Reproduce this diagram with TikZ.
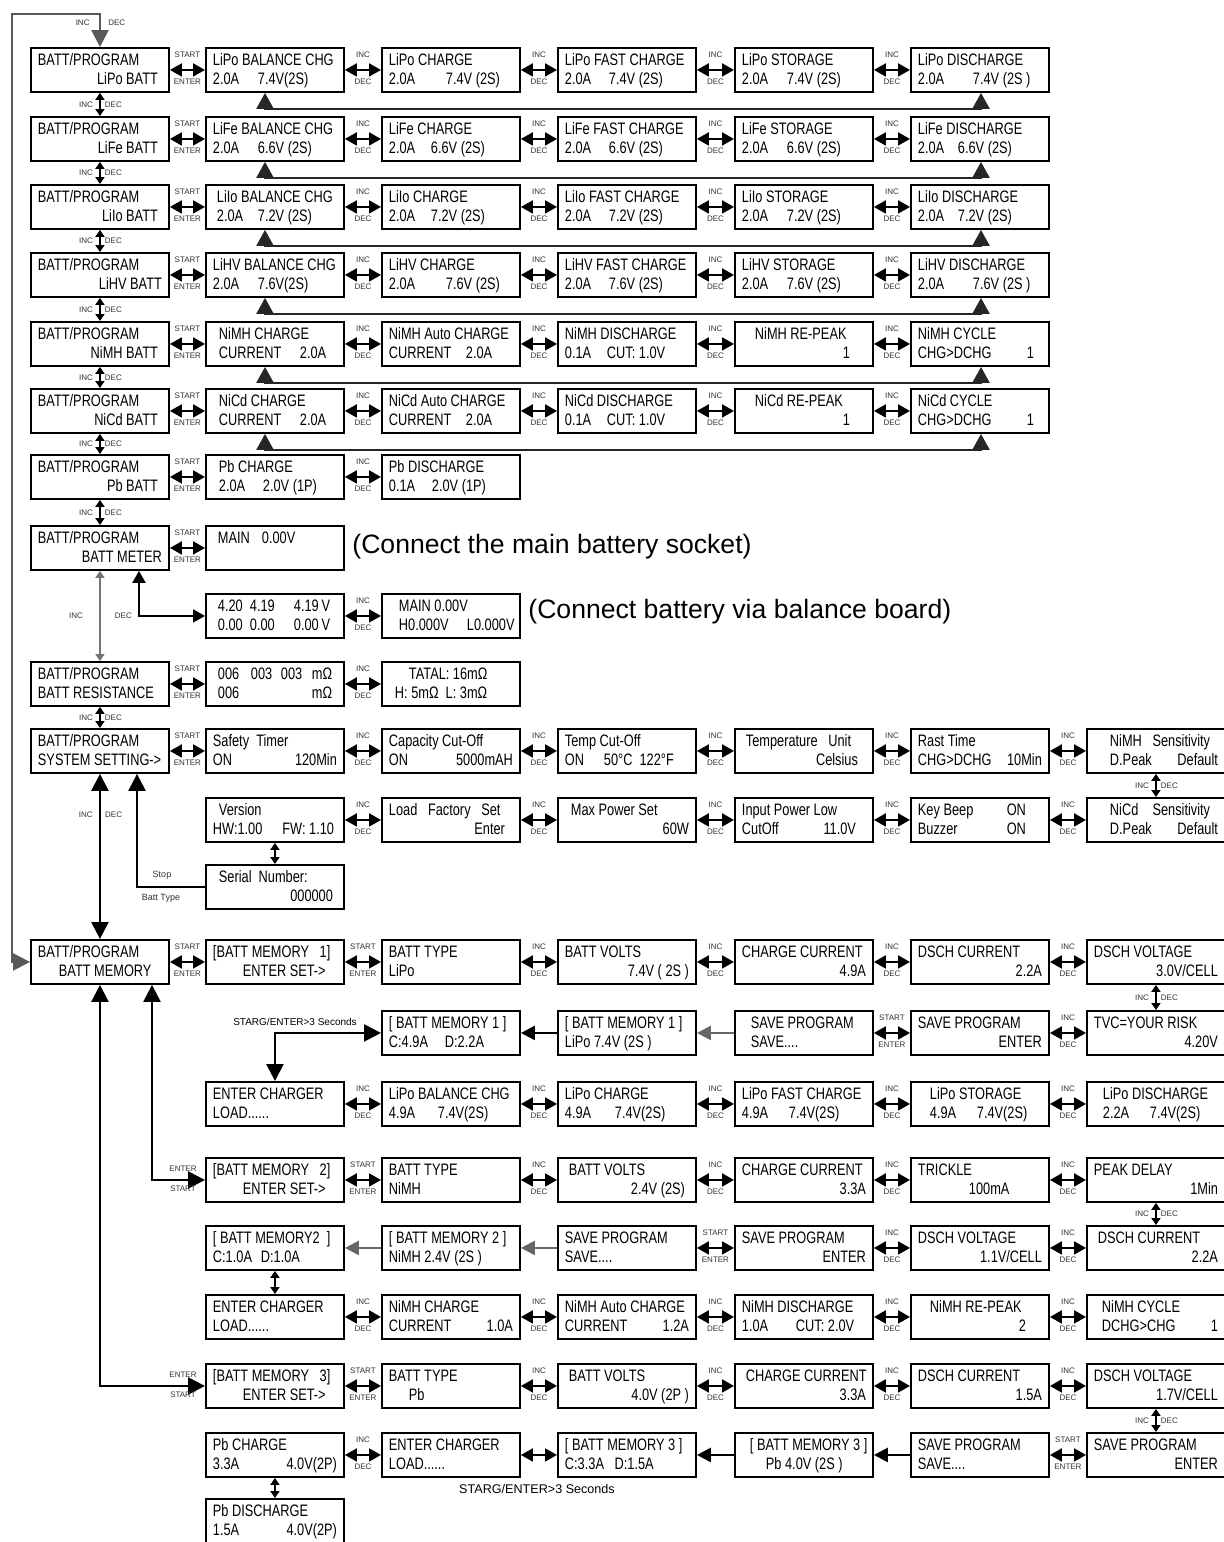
\documentclass[tikz,border=0pt]{standalone}
\usepackage{fontspec}
\setmainfont{Liberation Sans}
\newfontfamily\lcdfamily{Liberation Sans}[FakeStretch=0.77]
\usetikzlibrary{arrows.meta}
% two-line display, a line may use \hfill
\newcommand{\lcdtext}[2]{\vbox{\hsize=62pt\baselineskip=9.5pt\lineskiplimit=-20pt
  \hbox to\hsize{\vrule height6.5pt depth0pt width0pt#1\hss}
  \hbox to\hsize{\vrule height0pt depth1.5pt width0pt#2\hss}}}
\newcommand{\fw}[2]{\makebox[#1pt][l]{#2}}
\newcommand{\ud}[2]{\draw[dbl] (#1.east) -- node[tu]{INC} node[td]{DEC} (#2.west);}
\newcommand{\se}[2]{\draw[dbl] (#1.east) -- node[tu]{START} node[td]{ENTER} (#2.west);}
\newcommand{\vud}[2]{\draw[vdbl] (#1.south) -- node[tl]{INC} node[tr]{DEC} (#2.north);}
\newcommand{\fb}[2]{\draw[fb] ([xshift=30pt]#1.south west) -- ++(0,16) -| ([xshift=35.5pt]#2.south west);}

\begin{document}
\begin{tikzpicture}[x=0.5pt,y=-0.5pt,
  lcd/.style={draw,line width=0.95pt,minimum width=69pt,minimum height=22pt,inner sep=0pt,anchor=north west,font=\lcdfamily\fontsize{8.3}{9.5}\selectfont},
  tag/.style={font=\fontsize{4}{4.5}\selectfont,inner sep=0pt,text=black!80},
  tu/.style={tag,above=5.5pt},
  td/.style={tag,below=4pt},
  tl/.style={tag,left=3pt},
  tr/.style={tag,right=2pt},
  dbl/.style={{Triangle[length=6pt,width=6.5pt]}-{Triangle[length=6pt,width=6.5pt]},line width=1pt},
  vdbl/.style={{Triangle[length=3.5pt,width=4.5pt]}-{Triangle[length=3.5pt,width=4.5pt]},line width=1pt},
  bigdbl/.style={{Triangle[length=8.5pt,width=8.5pt]}-{Triangle[length=8.5pt,width=8.5pt]},line width=1.2pt},
  big/.style={-{Triangle[length=8.5pt,width=8.5pt]},line width=1.2pt},
  lft/.style={-{Triangle[length=7pt,width=7pt]},line width=1.2pt},
  fb/.style={{Triangle[length=8pt,width=8.5pt]}-{Triangle[length=8pt,width=8.5pt]},line width=1.2pt,black!85},
  hint/.style={font=\fontsize{13.3}{15}\selectfont,anchor=west,inner sep=0pt}]
\fill[white] (0,0) rectangle (1224,1542);
\useasboundingbox (0,0) rectangle (1224,1542);

% lithium rows
\node[lcd] (lipo) at (30,47) {\lcdtext{BATT/PROGRAM}{\hfill LiPo BATT\hspace{2pt}}};
\node[lcd] (lipobal) at (205,47) {\lcdtext{LiPo BALANCE CHG}{\fw{22.5}{2.0A}7.4V(2S)}};
\node[lcd] (lipochg) at (381,47) {\lcdtext{LiPo CHARGE}{\fw{28.5}{2.0A}7.4V (2S)}};
\node[lcd] (lipofast) at (557,47) {\lcdtext{LiPo FAST CHARGE}{\fw{22}{2.0A}7.4V (2S)}};
\node[lcd] (liposto) at (734,47) {\lcdtext{LiPo STORAGE}{\fw{22.5}{2.0A}7.4V (2S)}};
\node[lcd] (lipodis) at (910,47) {\lcdtext{LiPo DISCHARGE}{\fw{27.5}{2.0A}7.4V (2S )}};

\node[lcd] (life) at (30,116) {\lcdtext{BATT/PROGRAM}{\hfill LiFe BATT\hspace{2pt}}};
\node[lcd] (lifebal) at (205,116) {\lcdtext{LiFe BALANCE CHG}{\fw{22.5}{2.0A}6.6V (2S)}};
\node[lcd] (lifechg) at (381,116) {\lcdtext{LiFe CHARGE}{\fw{21}{2.0A}6.6V (2S)}};
\node[lcd] (lifefast) at (557,116) {\lcdtext{LiFe FAST CHARGE}{\fw{22}{2.0A}6.6V (2S)}};
\node[lcd] (lifesto) at (734,116) {\lcdtext{LiFe STORAGE}{\fw{22.5}{2.0A}6.6V (2S)}};
\node[lcd] (lifedis) at (910,116) {\lcdtext{LiFe DISCHARGE}{\fw{20}{2.0A}6.6V (2S)}};

\node[lcd] (liio) at (30,184) {\lcdtext{BATT/PROGRAM}{\hfill LiIo BATT\hspace{2pt}}};
\node[lcd] (liiobal) at (205,184) {\lcdtext{\hspace{2pt}LiIo BALANCE CHG}{\hspace{2pt}\fw{20.5}{2.0A}7.2V (2S)}};
\node[lcd] (liiochg) at (381,184) {\lcdtext{LiIo CHARGE}{\fw{21}{2.0A}7.2V (2S)}};
\node[lcd] (liiofast) at (557,184) {\lcdtext{LiIo FAST CHARGE}{\fw{22}{2.0A}7.2V (2S)}};
\node[lcd] (liiosto) at (734,184) {\lcdtext{LiIo STORAGE}{\fw{22.5}{2.0A}7.2V (2S)}};
\node[lcd] (liiodis) at (910,184) {\lcdtext{LiIo DISCHARGE}{\fw{20}{2.0A}7.2V (2S)}};

\node[lcd] (lihv) at (30,252) {\lcdtext{BATT/PROGRAM}{\hfill LiHV BATT}};
\node[lcd] (lihvbal) at (205,252) {\lcdtext{LiHV BALANCE CHG}{\fw{22.5}{2.0A}7.6V(2S)}};
\node[lcd] (lihvchg) at (381,252) {\lcdtext{LiHV CHARGE}{\fw{28.5}{2.0A}7.6V (2S)}};
\node[lcd] (lihvfast) at (557,252) {\lcdtext{LiHV FAST CHARGE}{\fw{22}{2.0A}7.6V (2S)}};
\node[lcd] (lihvsto) at (734,252) {\lcdtext{LiHV STORAGE}{\fw{22.5}{2.0A}7.6V (2S)}};
\node[lcd] (lihvdis) at (910,252) {\lcdtext{LiHV DISCHARGE}{\fw{27.5}{2.0A}7.6V (2S )}};

% nickel and lead rows
\node[lcd] (nimh) at (30,321) {\lcdtext{BATT/PROGRAM}{\hfill NiMH BATT\hspace{2pt}}};
\node[lcd] (nimhchg) at (205,321) {\lcdtext{\hspace{3pt}NiMH CHARGE}{\hspace{3pt}\fw{40.5}{CURRENT}2.0A}};
\node[lcd] (nimhauto) at (381,321) {\lcdtext{NiMH Auto CHARGE}{\fw{38.5}{CURRENT}2.0A}};
\node[lcd] (nimhdis) at (557,321) {\lcdtext{NiMH DISCHARGE}{\fw{21}{0.1A}CUT: 1.0V}};
\node[lcd] (nimhpeak) at (734,321) {\lcdtext{\hspace{6.5pt}NiMH RE-PEAK}{\hfill 1\hspace{8pt}}};
\node[lcd] (nimhcyc) at (910,321) {\lcdtext{NiMH CYCLE}{CHG>DCHG\hfill 1\hspace{4pt}}};

\node[lcd] (nicd) at (30,388) {\lcdtext{BATT/PROGRAM}{\hfill NiCd BATT\hspace{2pt}}};
\node[lcd] (nicdchg) at (205,388) {\lcdtext{\hspace{3pt}NiCd CHARGE}{\hspace{3pt}\fw{40.5}{CURRENT}2.0A}};
\node[lcd] (nicdauto) at (381,388) {\lcdtext{NiCd Auto CHARGE}{\fw{38.5}{CURRENT}2.0A}};
\node[lcd] (nicddis) at (557,388) {\lcdtext{NiCd DISCHARGE}{\fw{21}{0.1A}CUT: 1.0V}};
\node[lcd] (nicdpeak) at (734,388) {\lcdtext{\hspace{6.5pt}NiCd RE-PEAK}{\hfill 1\hspace{8pt}}};
\node[lcd] (nicdcyc) at (910,388) {\lcdtext{NiCd CYCLE}{CHG>DCHG\hfill 1\hspace{4pt}}};

\node[lcd] (pb) at (30,454) {\lcdtext{BATT/PROGRAM}{\hfill Pb BATT\hspace{2pt}}};
\node[lcd] (pbchg) at (205,454) {\lcdtext{\hspace{3pt}Pb CHARGE}{\hspace{3pt}\fw{22}{2.0A}2.0V (1P)}};
\node[lcd] (pbdis) at (381,454) {\lcdtext{Pb DISCHARGE}{\fw{21.5}{0.1A}2.0V (1P)}};

% meter and resistance
\node[lcd] (meter) at (30,525) {\lcdtext{BATT/PROGRAM}{\hfill BATT METER}};
\node[lcd] (metermain) at (205,525) {\lcdtext{\hspace{2.5pt}MAIN\hspace{6pt}0.00V}{}};
\node[lcd] (cells) at (205,593) {\lcdtext{\hspace{2.5pt}\fw{16}{4.20}\fw{22}{4.19}4.19\,V}{\hspace{2.5pt}\fw{16}{0.00}\fw{22}{0.00}0.00\,V}};
\node[lcd] (mainhl) at (381,593) {\lcdtext{\hspace{5pt}MAIN 0.00V}{\hspace{5pt}\fw{34}{H0.000V}L0.000V}};
\node[hint] (socket) at (352,547) {(Connect the main battery socket)};
\node[hint] (balance) at (528,612) {(Connect battery via balance board)};

\node[lcd] (resist) at (30,661) {\lcdtext{BATT/PROGRAM}{BATT RESISTANCE}};
\node[lcd] (resall) at (205,661) {\lcdtext{\hspace{2.5pt}\fw{16.5}{006}\fw{15}{003}\fw{15.5}{003}mΩ}{\hspace{2.5pt}\fw{47}{006}mΩ}};
\node[lcd] (restotal) at (381,661) {\lcdtext{\hspace{10pt}TATAL:\ 16mΩ}{\hspace{3pt}H:\ 5mΩ\ \ L:\ 3mΩ}};

% system settings
\node[lcd] (sysset) at (30,728) {\lcdtext{BATT/PROGRAM}{SYSTEM SETTING->}};
\node[lcd] (safety) at (205,728) {\lcdtext{Safety\ \ Timer}{ON\hfill 120Min}};
\node[lcd] (capcut) at (381,728) {\lcdtext{Capacity Cut-Off}{ON\hfill 5000mAH}};
\node[lcd] (tempcut) at (557,728) {\lcdtext{Temp Cut-Off}{\fw{19.5}{ON}50°C\ \ 122°F}};
\node[lcd] (tempunit) at (734,728) {\lcdtext{\hspace{2pt}Temperature\ \ \ Unit}{\hfill Celsius\hspace{4pt}}};
\node[lcd] (resttime) at (910,728) {\lcdtext{Rast Time}{CHG>DCHG\hfill 10Min}};
\node[lcd] (nimhsens) at (1086,728) {\lcdtext{\hspace{8pt}NiMH\ \ \ Sensitivity}{\hspace{8pt}D.Peak\hfill Default}};

\node[lcd] (version) at (205,797) {\lcdtext{\hspace{3pt}Version}{HW:1.00\hspace{10pt}FW: 1.10}};
\node[lcd] (factory) at (381,797) {\lcdtext{Load\ \ \ Factory\ \ \ Set}{\hfill Enter\hspace{4pt}}};
\node[lcd] (maxpower) at (557,797) {\lcdtext{\hspace{3pt}Max Power Set}{\hfill 60W}};
\node[lcd] (inputlow) at (734,797) {\lcdtext{Input Power Low}{CutOff\hfill 11.0V\hspace{5pt}}};
\node[lcd] (keybeep) at (910,797) {\lcdtext{Key Beep\hfill ON\hspace{8pt}}{Buzzer\hfill ON\hspace{8pt}}};
\node[lcd] (nicdsens) at (1086,797) {\lcdtext{\hspace{8pt}NiCd\ \ \ \ Sensitivity}{\hspace{8pt}D.Peak\hfill Default}};
\node[lcd] (serial) at (205,864) {\lcdtext{\hspace{3pt}Serial\ \ Number:}{\hfill 000000\hspace{2pt}}};

% batt memory
\node[lcd] (battmem) at (30,939) {\lcdtext{BATT/PROGRAM}{\hspace{10.5pt}BATT MEMORY}};
\node[lcd] (memone) at (205,939) {\lcdtext{[BATT MEMORY\ \ \ 1]}{\hspace{15pt}ENTER SET->}};
\node[lcd] (typeone) at (381,939) {\lcdtext{BATT TYPE}{LiPo}};
\node[lcd] (voltsone) at (557,939) {\lcdtext{BATT VOLTS}{\hfill 7.4V ( 2S )}};
\node[lcd] (chgone) at (734,939) {\lcdtext{CHARGE CURRENT}{\hfill 4.9A}};
\node[lcd] (dschone) at (910,939) {\lcdtext{DSCH CURRENT}{\hfill 2.2A}};
\node[lcd] (dvone) at (1086,939) {\lcdtext{DSCH VOLTAGE}{\hfill 3.0V/CELL}};

\node[lcd] (memonec) at (381,1010) {\lcdtext{[ BATT MEMORY 1 ]}{\fw{28}{C:4.9A}D:2.2A}};
\node[lcd] (memonel) at (557,1010) {\lcdtext{[ BATT MEMORY 1 ]}{LiPo 7.4V (2S )}};
\node[lcd] (saveone) at (734,1010) {\lcdtext{\hspace{4.5pt}SAVE PROGRAM}{\hspace{4.5pt}SAVE....}};
\node[lcd] (saveentone) at (910,1010) {\lcdtext{SAVE PROGRAM}{\hfill ENTER}};
\node[lcd] (tvc) at (1086,1010) {\lcdtext{TVC=YOUR RISK}{\hfill 4.20V}};
\node[font=\fontsize{5}{6}\selectfont,inner sep=0pt] (holdone) at (295,1022) {STARG/ENTER>3 Seconds};

\node[lcd] (loadone) at (205,1081) {\lcdtext{ENTER CHARGER}{LOAD......}};
\node[lcd] (lbal) at (381,1081) {\lcdtext{LiPo BALANCE CHG}{\fw{24.5}{4.9A}7.4V(2S)}};
\node[lcd] (lchg) at (557,1081) {\lcdtext{LiPo CHARGE}{\fw{25}{4.9A}7.4V(2S)}};
\node[lcd] (lfast) at (734,1081) {\lcdtext{LiPo FAST CHARGE}{\fw{23.5}{4.9A}7.4V(2S)}};
\node[lcd] (lsto) at (910,1081) {\lcdtext{\hspace{6pt}LiPo STORAGE}{\hspace{6pt}\fw{23.5}{4.9A}7.4V(2S)}};
\node[lcd] (ldis) at (1086,1081) {\lcdtext{\hspace{4.5pt}LiPo DISCHARGE}{\hspace{4.5pt}\fw{23.5}{2.2A}7.4V(2S)}};

\node[lcd] (memtwo) at (205,1157) {\lcdtext{[BATT MEMORY\ \ \ 2]}{\hspace{15pt}ENTER SET->}};
\node[lcd] (typetwo) at (381,1157) {\lcdtext{BATT TYPE}{NiMH}};
\node[lcd] (voltstwo) at (557,1157) {\lcdtext{\hspace{2pt}BATT VOLTS}{\hfill 2.4V (2S)\hspace{2pt}}};
\node[lcd] (chgtwo) at (734,1157) {\lcdtext{CHARGE CURRENT}{\hfill 3.3A}};
\node[lcd] (trickle) at (910,1157) {\lcdtext{TRICKLE}{\hspace{25.5pt}100mA}};
\node[lcd] (peak) at (1086,1157) {\lcdtext{PEAK DELAY}{\hfill 1Min}};

\node[lcd] (memtwoc) at (205,1225) {\lcdtext{[\ BATT MEMORY2\ \ ]}{\fw{24}{C:1.0A}D:1.0A}};
\node[lcd] (memtwon) at (381,1225) {\lcdtext{[ BATT MEMORY 2 ]}{NiMH 2.4V (2S )}};
\node[lcd] (savetwo) at (557,1225) {\lcdtext{SAVE PROGRAM}{SAVE....}};
\node[lcd] (saveenttwo) at (734,1225) {\lcdtext{SAVE PROGRAM}{\hfill ENTER}};
\node[lcd] (dvtwo) at (910,1225) {\lcdtext{DSCH VOLTAGE}{\hfill 1.1V/CELL}};
\node[lcd] (dschtwo) at (1086,1225) {\lcdtext{\hspace{2pt}DSCH CURRENT}{\hfill 2.2A}};

\node[lcd] (loadtwo) at (205,1294) {\lcdtext{ENTER CHARGER}{LOAD......}};
\node[lcd] (nchg) at (381,1294) {\lcdtext{NiMH CHARGE}{CURRENT\hfill 1.0A}};
\node[lcd] (nauto) at (557,1294) {\lcdtext{NiMH Auto CHARGE}{CURRENT\hfill 1.2A}};
\node[lcd] (ndis) at (734,1294) {\lcdtext{NiMH DISCHARGE}{\fw{27}{1.0A}CUT: 2.0V}};
\node[lcd] (npeak) at (910,1294) {\lcdtext{\hspace{6pt}NiMH RE-PEAK}{\hfill 2\hspace{8pt}}};
\node[lcd] (ncyc) at (1086,1294) {\lcdtext{\hspace{4pt}NiMH CYCLE}{\hspace{4pt}DCHG>CHG\hfill 1}};

\node[lcd] (memthree) at (205,1363) {\lcdtext{[BATT MEMORY\ \ \ 3]}{\hspace{15pt}ENTER SET->}};
\node[lcd] (typethree) at (381,1363) {\lcdtext{BATT TYPE}{\hspace{10pt}Pb}};
\node[lcd] (voltsthree) at (557,1363) {\lcdtext{\hspace{2pt}BATT VOLTS}{\hfill 4.0V (2P )}};
\node[lcd] (chgthree) at (734,1363) {\lcdtext{\hspace{2pt}CHARGE CURRENT}{\hfill 3.3A}};
\node[lcd] (dschthree) at (910,1363) {\lcdtext{DSCH CURRENT}{\hfill 1.5A}};
\node[lcd] (dvthree) at (1086,1363) {\lcdtext{DSCH VOLTAGE}{\hfill 1.7V/CELL}};

\node[lcd] (pbchgm) at (205,1432) {\lcdtext{Pb CHARGE}{3.3A\hfill 4.0V(2P)}};
\node[lcd] (loadthree) at (381,1432) {\lcdtext{ENTER CHARGER}{LOAD......}};
\node[lcd] (memthreec) at (557,1432) {\lcdtext{[ BATT MEMORY 3 ]}{C:3.3A\ \ \ D:1.5A}};
\node[lcd] (memthreep) at (734,1432) {\lcdtext{\hspace{4pt}[ BATT MEMORY 3 ]}{\hspace{12pt}Pb 4.0V (2S )}};
\node[lcd] (savethree) at (910,1432) {\lcdtext{SAVE PROGRAM}{SAVE....}};
\node[lcd] (saveentthree) at (1086,1432) {\lcdtext{SAVE PROGRAM}{\hfill ENTER}};
\node[lcd] (pbdism) at (205,1498) {\lcdtext{Pb DISCHARGE}{1.5A\hfill 4.0V(2P)}};
\node[font=\fontsize{6.3}{7}\selectfont,inner sep=0pt] (holdthree) at (537,1489) {STARG/ENTER>3 Seconds};

% links, lithium to lead
\se{lipo}{lipobal} \ud{lipobal}{lipochg} \ud{lipochg}{lipofast} \ud{lipofast}{liposto} \ud{liposto}{lipodis}
\se{life}{lifebal} \ud{lifebal}{lifechg} \ud{lifechg}{lifefast} \ud{lifefast}{lifesto} \ud{lifesto}{lifedis}
\se{liio}{liiobal} \ud{liiobal}{liiochg} \ud{liiochg}{liiofast} \ud{liiofast}{liiosto} \ud{liiosto}{liiodis}
\se{lihv}{lihvbal} \ud{lihvbal}{lihvchg} \ud{lihvchg}{lihvfast} \ud{lihvfast}{lihvsto} \ud{lihvsto}{lihvdis}
\se{nimh}{nimhchg} \ud{nimhchg}{nimhauto} \ud{nimhauto}{nimhdis} \ud{nimhdis}{nimhpeak} \ud{nimhpeak}{nimhcyc}
\se{nicd}{nicdchg} \ud{nicdchg}{nicdauto} \ud{nicdauto}{nicddis} \ud{nicddis}{nicdpeak} \ud{nicdpeak}{nicdcyc}
\se{pb}{pbchg} \ud{pbchg}{pbdis}
\fb{lipobal}{lipodis} \fb{lifebal}{lifedis} \fb{liiobal}{liiodis}
\fb{lihvbal}{lihvdis} \fb{nimhchg}{nimhcyc} \fb{nicdchg}{nicdcyc}
\vud{lipo}{life} \vud{life}{liio} \vud{liio}{lihv} \vud{lihv}{nimh}
\vud{nimh}{nicd} \vud{nicd}{pb} \vud{pb}{meter}

% meter, resistance, settings
\se{meter}{metermain}
\draw[vdbl,black!55] (meter.south) -- node[tl,left=5pt]{INC} node[tr,right=5pt]{DEC} (resist.north);
\draw[dbl] ([xshift=54.5pt]meter.south west) |- (cells.west);
\ud{cells}{mainhl}
\se{resist}{resall} \ud{resall}{restotal}
\vud{resist}{sysset}
\se{sysset}{safety} \ud{safety}{capcut} \ud{capcut}{tempcut} \ud{tempcut}{tempunit} \ud{tempunit}{resttime} \ud{resttime}{nimhsens}
\vud{nimhsens}{nicdsens}
\ud{version}{factory} \ud{factory}{maxpower} \ud{maxpower}{inputlow} \ud{inputlow}{keybeep} \ud{keybeep}{nicdsens}
\draw[vdbl] (version.south) -- (serial.north);
\draw[big] (serial.west) -| ([xshift=53.5pt]sysset.south west);
\node[tag,font=\fontsize{4.5}{5}\selectfont] (stop) at ([xshift=-21.5pt,yshift=6pt]serial.west) {Stop};
\node[tag,font=\fontsize{4.5}{5}\selectfont] (batttype) at ([xshift=-22pt,yshift=-5.5pt]serial.west) {Batt Type};
\draw[bigdbl] (sysset.south) -- node[tl,pos=0.25]{INC} node[tr,pos=0.25]{DEC} (battmem.north);
\draw[bigdbl,black!65] (battmem.west) -| ++(-18,-948) -| (lipo.north);
\node[tag,anchor=east] (inctop) at ([xshift=-5pt,yshift=12pt]lipo.north) {INC};
\node[tag,anchor=west] (dectop) at ([xshift=4pt,yshift=12pt]lipo.north) {DEC};

% memory 1
\se{battmem}{memone} \se{memone}{typeone} \ud{typeone}{voltsone} \ud{voltsone}{chgone} \ud{chgone}{dschone} \ud{dschone}{dvone}
\vud{dvone}{tvc}
\draw[lft] (memonel.west) -- (memonec.east);
\draw[lft,black!60] (saveone.west) -- (memonel.east);
\se{saveone}{saveentone} \ud{saveentone}{tvc}
\draw[bigdbl] (memonec.west) -| (loadone.north);
\ud{loadone}{lbal} \ud{lbal}{lchg} \ud{lchg}{lfast} \ud{lfast}{lsto} \ud{lsto}{ldis}

% memory 2
\draw[bigdbl] ([xshift=61pt]battmem.south west) |- (memtwo.west);
\node[tag] (entertwo) at ([xshift=-11pt,yshift=5.5pt]memtwo.west) {ENTER};
\node[tag] (starttwo) at ([xshift=-11pt,yshift=-4.5pt]memtwo.west) {START};
\se{memtwo}{typetwo} \ud{typetwo}{voltstwo} \ud{voltstwo}{chgtwo} \ud{chgtwo}{trickle} \ud{trickle}{peak}
\vud{peak}{dschtwo}
\draw[lft,black!60] (memtwon.west) -- (memtwoc.east);
\draw[lft,black!60] (savetwo.west) -- (memtwon.east);
\se{savetwo}{saveenttwo} \ud{saveenttwo}{dvtwo} \ud{dvtwo}{dschtwo}
\draw[vdbl] (memtwoc.south) -- (loadtwo.north);
\ud{loadtwo}{nchg} \ud{nchg}{nauto} \ud{nauto}{ndis} \ud{ndis}{npeak} \ud{npeak}{ncyc}

% memory 3
\draw[bigdbl] (battmem.south) |- (memthree.west);
\node[tag] (enterthree) at ([xshift=-11pt,yshift=5.5pt]memthree.west) {ENTER};
\node[tag] (startthree) at ([xshift=-11pt,yshift=-4.5pt]memthree.west) {START};
\se{memthree}{typethree} \ud{typethree}{voltsthree} \ud{voltsthree}{chgthree} \ud{chgthree}{dschthree} \ud{dschthree}{dvthree}
\vud{dvthree}{saveentthree}
\ud{pbchgm}{loadthree}
\draw[dbl] (loadthree.east) -- (memthreec.west);
\draw[lft] (memthreep.west) -- (memthreec.east);
\draw[lft] (savethree.west) -- (memthreep.east);
\se{savethree}{saveentthree}
\draw[vdbl] (pbchgm.south) -- (pbdism.north);
\end{tikzpicture}
\end{document}
